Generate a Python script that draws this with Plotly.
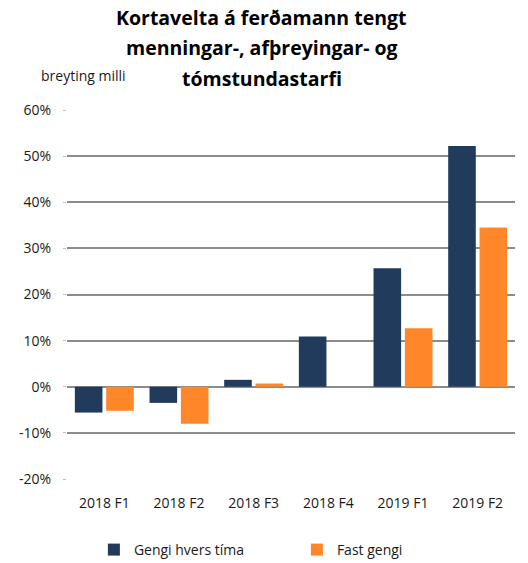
import plotly.graph_objects as go

categories = ["2018 F1", "2018 F2", "2018 F3", "2018 F4", "2019 F1", "2019 F2"]
gengi_hvers_tima = [-0.056, -0.035, 0.015, 0.109, 0.257, 0.522]
fast_gengi = [-0.052, -0.080, 0.007, None, 0.127, 0.345]
y_ticks = [-0.2, -0.1, 0, 0.1, 0.2, 0.3, 0.4, 0.5, 0.6]
y_tick_labels = ["-20%", "-10%", "0%", "10%", "20%", "30%", "40%", "50%", "60%"]
title_lines = ["Kortavelta á ferðamann tengt", "menningar-, afþreyingar- og", "tómstundastarfi"]

FONT = "Open Sans"
TXT = "#1a1a1a"
PLOT_TOP, PLOT_BOTTOM = 110, 479


def py(pixel_y):
    return (PLOT_BOTTOM - pixel_y) / (PLOT_BOTTOM - PLOT_TOP)


fig = go.Figure()
fig.add_trace(go.Bar(x=categories, y=gengi_hvers_tima, name="Gengi hvers tíma",
                     marker=dict(color="#203B5B", line=dict(width=0))))
fig.add_trace(go.Bar(x=categories, y=fast_gengi, name="Fast gengi",
                     marker=dict(color="#FF8629", line=dict(width=0))))

annotations = []
for i, line in enumerate(title_lines):
    annotations.append(dict(text="<b>" + line + "</b>", xref="paper", yref="paper",
                            x=0.435, y=py(18 + i * 30), xanchor="center", yanchor="middle",
                            showarrow=False, font=dict(family=FONT, size=19.5, color="black")))
annotations.append(dict(text="breyting milli", xref="paper", yref="paper",
                        x=-0.062, y=py(75), xanchor="left", yanchor="middle",
                        showarrow=False, font=dict(family=FONT, size=14, color=TXT)))

fig.update_layout(
    width=528, height=563,
    paper_bgcolor="white", plot_bgcolor="white",
    margin=dict(l=67, r=13, t=PLOT_TOP, b=563 - PLOT_BOTTOM, autoexpand=False),
    barmode="group", bargap=0.16, bargroupgap=0.12,
    font=dict(family=FONT, size=14, color=TXT),
    showlegend=True,
    legend=dict(orientation="h", xref="paper", yref="paper",
                x=0.06, xanchor="left", y=py(550), yanchor="middle",
                font=dict(family=FONT, size=14, color=TXT),
                entrywidth=158, entrywidthmode="pixels", itemwidth=30,
                traceorder="normal"),
    xaxis=dict(showgrid=False, showline=False, ticks="", ticklabelstandoff=14,
               tickfont=dict(family=FONT, size=14, color=TXT)),
    yaxis=dict(range=[-0.2, 0.6], tickvals=y_ticks, ticktext=y_tick_labels,
               showgrid=True, gridcolor="#8c8c8c", gridwidth=1.5,
               zeroline=True, zerolinecolor="#8c8c8c", zerolinewidth=2,
               showline=False, ticks="outside", ticklen=3, tickcolor="#bfbfbf",
               ticklabelstandoff=9,
               tickfont=dict(family=FONT, size=14, color=TXT)),
    annotations=annotations,
)

fig.write_html("out.html", config={"displayModeBar": False},
               post_script="document.body.style.margin='0';")
